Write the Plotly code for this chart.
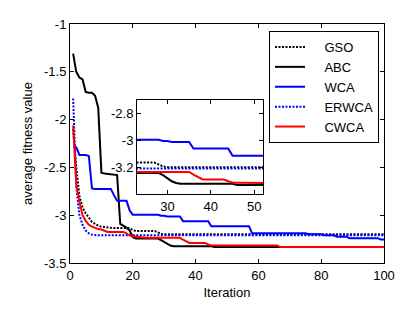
import plotly.graph_objects as go

# ---------------- data ----------------
ITERATIONS = list(range(1, 101))

GSO = [
    -2.10, -2.50, -2.80, -2.92, -2.98, -3.03, -3.07, -3.09, -3.11, -3.12,
    -3.125, -3.13, -3.135, -3.135, -3.135, -3.135, -3.135, -3.135, -3.135, -3.155,
    -3.166, -3.166, -3.166, -3.166, -3.166, -3.166, -3.166, -3.18, -3.195, -3.2,
    -3.2, -3.2, -3.2, -3.2, -3.2, -3.2, -3.2, -3.2, -3.2, -3.2,
    -3.2, -3.2, -3.2, -3.2, -3.2, -3.2, -3.2, -3.2, -3.2, -3.2,
    -3.2, -3.2, -3.2, -3.2, -3.2, -3.2, -3.2, -3.2, -3.2, -3.2,
    -3.2, -3.2, -3.2, -3.2, -3.2, -3.2, -3.2, -3.2, -3.2, -3.2,
    -3.2, -3.2, -3.2, -3.2, -3.2, -3.2, -3.2, -3.2, -3.2, -3.2,
    -3.2, -3.2, -3.2, -3.2, -3.2, -3.2, -3.2, -3.2, -3.2, -3.2,
    -3.2, -3.2, -3.2, -3.2, -3.2, -3.2, -3.2, -3.2, -3.2, -3.2,
]

ABC = [
    -1.31, -1.50, -1.56, -1.58, -1.71, -1.72, -1.72, -1.75, -1.88, -2.555,
    -2.565, -2.57, -2.57, -2.575, -2.58, -3.09, -3.11, -3.13, -3.16, -3.23,
    -3.244, -3.244, -3.244, -3.244, -3.244, -3.244, -3.244, -3.244, -3.26, -3.28,
    -3.305, -3.318, -3.324, -3.324, -3.324, -3.324, -3.324, -3.324, -3.324, -3.324,
    -3.324, -3.324, -3.324, -3.324, -3.324, -3.333, -3.333, -3.333, -3.333, -3.333,
    -3.333, -3.333, -3.333, -3.333, -3.333, -3.333, -3.333, -3.333, -3.333, -3.333,
    -3.333, -3.333, -3.333, -3.333, -3.333, -3.333, -3.333, -3.333, -3.333, -3.333,
    -3.333, -3.333, -3.333, -3.333, -3.333, -3.333, -3.333, -3.333, -3.333, -3.333,
    -3.333, -3.333, -3.333, -3.333, -3.333, -3.333, -3.333, -3.333, -3.333, -3.333,
    -3.333, -3.333, -3.333, -3.333, -3.333, -3.333, -3.333, -3.333, -3.333, -3.333,
]

WCA = [
    -2.28, -2.29, -2.37, -2.37, -2.37, -2.38, -2.72, -2.725, -2.725, -2.725,
    -2.725, -2.725, -2.725, -2.79, -2.85, -2.85, -2.85, -2.85, -2.95, -2.996,
    -2.996, -2.996, -2.996, -2.996, -2.996, -2.996, -2.996, -2.996, -3.005, -3.005,
    -3.013, -3.013, -3.013, -3.013, -3.013, -3.062, -3.062, -3.062, -3.062, -3.062,
    -3.062, -3.062, -3.062, -3.062, -3.115, -3.115, -3.115, -3.115, -3.115, -3.115,
    -3.115, -3.115, -3.115, -3.115, -3.115, -3.115, -3.115, -3.19, -3.19, -3.19,
    -3.19, -3.19, -3.19, -3.19, -3.19, -3.19, -3.19, -3.19, -3.19, -3.19,
    -3.19, -3.19, -3.19, -3.19, -3.19, -3.2, -3.2, -3.2, -3.2, -3.2,
    -3.21, -3.21, -3.21, -3.21, -3.225, -3.225, -3.225, -3.225, -3.24, -3.24,
    -3.24, -3.24, -3.24, -3.24, -3.24, -3.24, -3.24, -3.24, -3.255, -3.255,
]

ERWCA = [
    -1.78, -2.70, -3.00, -3.10, -3.16, -3.19, -3.205, -3.21, -3.21, -3.21,
    -3.21, -3.21, -3.21, -3.21, -3.21, -3.21, -3.21, -3.21, -3.21, -3.21,
    -3.21, -3.21, -3.21, -3.21, -3.21, -3.21, -3.21, -3.21, -3.21, -3.21,
    -3.21, -3.21, -3.21, -3.21, -3.21, -3.21, -3.21, -3.21, -3.21, -3.21,
    -3.21, -3.21, -3.21, -3.21, -3.21, -3.21, -3.21, -3.21, -3.21, -3.21,
    -3.21, -3.21, -3.21, -3.21, -3.21, -3.21, -3.21, -3.21, -3.21, -3.21,
    -3.21, -3.21, -3.21, -3.21, -3.21, -3.21, -3.21, -3.21, -3.21, -3.21,
    -3.21, -3.21, -3.21, -3.21, -3.21, -3.21, -3.21, -3.21, -3.21, -3.21,
    -3.21, -3.21, -3.21, -3.21, -3.21, -3.21, -3.21, -3.21, -3.21, -3.21,
    -3.21, -3.21, -3.21, -3.21, -3.21, -3.21, -3.21, -3.21, -3.21, -3.21,
]

CWCA = [
    -2.06, -2.68, -2.86, -3.00, -3.06, -3.10, -3.12, -3.135, -3.145, -3.15,
    -3.16, -3.175, -3.175, -3.175, -3.175, -3.175, -3.175, -3.19, -3.21, -3.22,
    -3.225, -3.225, -3.236, -3.236, -3.236, -3.236, -3.236, -3.236, -3.236, -3.236,
    -3.236, -3.236, -3.236, -3.236, -3.236, -3.255, -3.275, -3.29, -3.292, -3.292,
    -3.292, -3.292, -3.292, -3.305, -3.316, -3.316, -3.316, -3.316, -3.316, -3.316,
    -3.316, -3.316, -3.316, -3.316, -3.316, -3.316, -3.316, -3.316, -3.316, -3.316,
    -3.316, -3.316, -3.316, -3.316, -3.316, -3.316, -3.333, -3.333, -3.333, -3.333,
    -3.333, -3.333, -3.333, -3.333, -3.333, -3.333, -3.333, -3.333, -3.333, -3.333,
    -3.333, -3.333, -3.333, -3.333, -3.333, -3.333, -3.333, -3.333, -3.333, -3.333,
    -3.333, -3.333, -3.333, -3.333, -3.333, -3.333, -3.333, -3.333, -3.333, -3.333,
]

SERIES_NAMES = ["GSO", "ABC", "WCA", "ERWCA", "CWCA"]

X_TICKS = [0, 20, 40, 60, 80, 100]
Y_TICKS = [-3.5, -3, -2.5, -2, -1.5, -1]
Y_TICK_TEXT = ["-3.5", "-3", "-2.5", "-2", "-1.5", "-1"]

INSET_X_TICKS = [30, 40, 50]
INSET_Y_TICKS = [-3.2, -3, -2.8]
INSET_Y_TICK_TEXT = ["-3.2", "-3", "-2.8"]

X_TITLE = "Iteration"
Y_TITLE = "average fitness value"

# ---------------- styling ----------------
FONT = "Liberation Sans, Arial, sans-serif"
DOT = "2px,1.5px"
LEGEND_PAD = "\u00a0" * 4  # pushes legend text right of the longer MATLAB-style samples
STYLES = {
    "GSO": dict(color="#000000", width=2, dash=DOT),
    "ABC": dict(color="#000000", width=2),
    "WCA": dict(color="#0000FF", width=2),
    "ERWCA": dict(color="#0000FF", width=2, dash=DOT),
    "CWCA": dict(color="#FF0000", width=2),
}
DATA = {"GSO": GSO, "ABC": ABC, "WCA": WCA, "ERWCA": ERWCA, "CWCA": CWCA}

fig = go.Figure()
for name in SERIES_NAMES:
    fig.add_trace(go.Scatter(
        x=ITERATIONS, y=DATA[name], mode="lines", name=LEGEND_PAD + name,
        line=STYLES[name], xaxis="x", yaxis="y",
    ))
for name in SERIES_NAMES:
    fig.add_trace(go.Scatter(
        x=ITERATIONS, y=DATA[name], mode="lines", name=name,
        line=STYLES[name], showlegend=False, xaxis="x2", yaxis="y2",
        cliponaxis=True,
    ))

axis_common = dict(
    showline=True, linecolor="black", linewidth=1, mirror="ticks",
    ticks="inside", ticklen=4, tickcolor="black", tickwidth=1,
    showgrid=False, zeroline=False,
    tickfont=dict(family=FONT, size=13, color="black"),
)

fig.update_layout(
    width=419, height=310, autosize=False,
    margin=dict(l=70, r=35, t=24, b=47),
    paper_bgcolor="white", plot_bgcolor="white",
    font=dict(family=FONT, size=13, color="black"),
    xaxis=dict(range=[0, 100], tickvals=X_TICKS, domain=[0, 1],
               title=dict(text=X_TITLE, font=dict(family=FONT, size=13), standoff=6),
               **axis_common),
    yaxis=dict(range=[-3.5, -1], tickvals=Y_TICKS, ticktext=Y_TICK_TEXT, domain=[0, 1],
               title=dict(text=Y_TITLE, font=dict(family=FONT, size=13), standoff=8),
               **axis_common),
    xaxis2=dict(range=[23, 52], tickvals=INSET_X_TICKS, domain=[0.2134, 0.6146],
                anchor="y2", **axis_common),
    yaxis2=dict(range=[-3.4, -2.7], tickvals=INSET_Y_TICKS, ticktext=INSET_Y_TICK_TEXT,
                domain=[0.2887, 0.6820], anchor="x2", **axis_common),
    legend=dict(
        x=(269 - 70) / 314, y=(263 - 31) / 239, xanchor="left", yanchor="top",
        bgcolor="white", bordercolor="black", borderwidth=1,
        font=dict(family=FONT, size=13, color="black"),
        tracegroupgap=0,
    ),
    showlegend=True,
)

fig.write_html(
    "out.html",
    config={"displayModeBar": False},
    post_script="document.body.style.margin='0';document.body.style.overflow='hidden';",
)
